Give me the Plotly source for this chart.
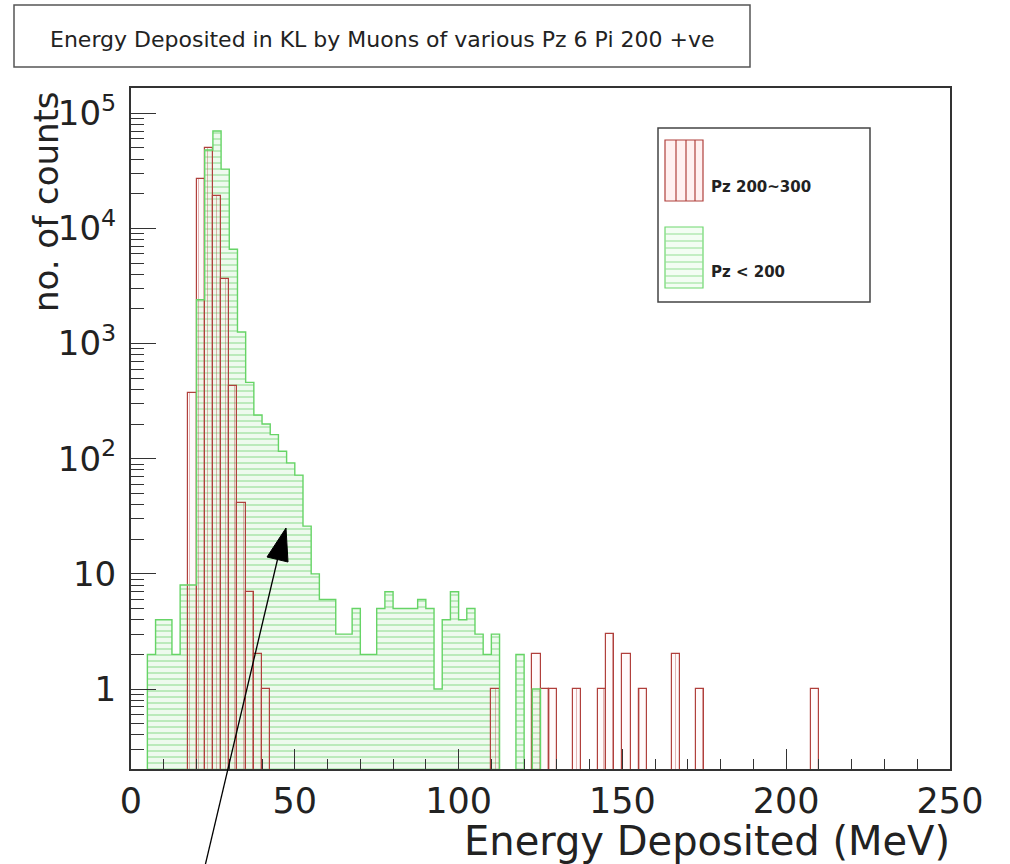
import plotly.graph_objects as go

# ---------------- data (2.5 MeV bins, lower edges) ----------------
BIN_W = 2.5
green_edges = [5, 7.5, 10, 12.5, 15, 17.5, 20, 22.5, 25, 27.5, 30, 32.5, 35, 37.5, 40,
               42.5, 45, 47.5, 50, 52.5, 55, 57.5, 60, 62.5, 65, 67.5, 70, 72.5, 75,
               77.5, 80, 82.5, 85, 87.5, 90, 92.5, 95, 97.5, 100, 102.5, 105, 107.5,
               110, 117.5, 122.5]
green_counts = [2, 4, 4, 2, 8, 8, 2400, 48000, 70000, 32700, 6600, 1260, 460, 240, 200,
                162, 116, 92, 72, 26, 10, 6, 6, 3, 3, 5, 2, 2, 5,
                7, 5, 5, 5, 6, 5, 1, 4, 7, 4, 5, 3, 2,
                3, 2, 1]

red_edges = [17.5, 20, 22.5, 25, 27.5, 30, 32.5, 35, 37.5, 40, 110, 122.5, 125, 127.5,
             135, 142.5, 145, 150, 155, 165, 172.5, 207.5]
red_counts = [370, 27000, 50000, 19000, 3600, 425, 41, 7, 2, 1, 1, 2, 1, 1,
              1, 1, 3, 2, 1, 2, 1, 1]

y_tickvals = [1, 10, 100, 1000, 10000, 100000]
y_ticktext = ["1", "10", "10<sup>2</sup>", "10<sup>3</sup>", "10<sup>4</sup>", "10<sup>5</sup>"]
y_minor = [m * 10 ** k for k in range(-1, 6) for m in range(2, 10)]

title_text = "Energy Deposited in KL by Muons of various Pz 6 Pi 200 +ve"
legend_red = "Pz 200~300"
legend_green = "Pz < 200"

FONT = "DejaVu Sans"
FLOOR = 1e-3  # below the visible range: outline drops to the frame bottom

# ---------------- layout geometry (pixels) ----------------
W, H = 1010, 864
L, R, T, B = 131, 950, 88, 769


def px(x):
    return (x - L) / (R - L)


def py(y):
    return (B - y) / (B - T)


def step_outline(edges, counts, w):
    """Histogram outline (step line) built from bin edges/counts, split at gaps."""
    xs, ys = [], []
    prev_end = None
    for e, c in zip(edges, counts):
        if prev_end is None or abs(e - prev_end) > 1e-9:
            if prev_end is not None:
                xs += [prev_end, None]
                ys += [FLOOR, None]
            xs.append(e)
            ys.append(FLOOR)
        xs += [e, e + w]
        ys += [c, c]
        prev_end = e + w
    xs.append(prev_end)
    ys.append(FLOOR)
    return xs, ys


fig = go.Figure()

# green filled hatched bars (no per-bin outline)
fig.add_trace(go.Bar(
    x=[e + BIN_W / 2 for e in green_edges], y=green_counts, width=BIN_W,
    name=legend_green, showlegend=False,
    marker=dict(color="#eefaee",
                line=dict(width=0),
                pattern=dict(shape="-", fgcolor="#98e098", bgcolor="#eefaee",
                             size=6, solidity=0.2, fillmode="replace")),
))
gx, gy = step_outline(green_edges, green_counts, BIN_W)
fig.add_trace(go.Scatter(x=gx, y=gy, mode="lines", showlegend=False,
                         line=dict(color="#66d466", width=1.4), hoverinfo="skip",
                         connectgaps=False))

# red hatched bars with outlines
fig.add_trace(go.Bar(
    x=[e + BIN_W / 2 for e in red_edges], y=red_counts, width=BIN_W,
    name=legend_red, showlegend=False,
    marker=dict(color="rgba(255,220,220,0.2)",
                line=dict(color="#b0403c", width=1.2),
                pattern=dict(shape="|", fgcolor="rgba(176,64,60,0.4)",
                             bgcolor="rgba(255,225,225,0.18)",
                             size=9, solidity=0.1, fillmode="replace")),
))

shapes = []
annotations = []

# title box
shapes.append(dict(type="rect", xref="paper", yref="paper",
                   x0=px(14), x1=px(750), y0=py(67), y1=py(5),
                   line=dict(color="#555555", width=1.5), fillcolor="white", layer="above"))
annotations.append(dict(xref="paper", yref="paper", x=px(382), y=py(39),
                        text=title_text, showarrow=False, xanchor="center", yanchor="middle",
                        font=dict(family=FONT, size=22, color="#222222")))

# legend box
shapes.append(dict(type="rect", xref="paper", yref="paper",
                   x0=px(658), x1=px(870), y0=py(302), y1=py(128),
                   line=dict(color="#444444", width=1.5), fillcolor="white", layer="above"))
# red swatch
shapes.append(dict(type="rect", xref="paper", yref="paper",
                   x0=px(665), x1=px(703), y0=py(201), y1=py(140),
                   line=dict(color="#b0403c", width=1.2), fillcolor="#fff0f0", layer="above"))
for xv in [676, 686, 695]:
    shapes.append(dict(type="line", xref="paper", yref="paper",
                       x0=px(xv), x1=px(xv), y0=py(201), y1=py(140),
                       line=dict(color="#b0403c", width=1.2), layer="above"))
# green swatch
shapes.append(dict(type="rect", xref="paper", yref="paper",
                   x0=px(665), x1=px(703), y0=py(288), y1=py(227),
                   line=dict(color="#6fd86f", width=1.2), fillcolor="#f3fdf3", layer="above"))
for yv in range(234, 288, 7):
    shapes.append(dict(type="line", xref="paper", yref="paper",
                       x0=px(665), x1=px(703), y0=py(yv), y1=py(yv),
                       line=dict(color="#93df93", width=1.2), layer="above"))
annotations.append(dict(xref="paper", yref="paper", x=px(709), y=py(187),
                        text="<b>" + legend_red + "</b>", showarrow=False,
                        xanchor="left", yanchor="middle",
                        font=dict(family=FONT, size=15, color="#222222")))
annotations.append(dict(xref="paper", yref="paper", x=px(709), y=py(272),
                        text="<b>" + legend_green + "</b>", showarrow=False,
                        xanchor="left", yanchor="middle",
                        font=dict(family=FONT, size=15, color="#222222")))

# axis titles
annotations.append(dict(xref="paper", yref="paper", x=px(46), y=py(202),
                        text="no. of counts", showarrow=False, textangle=-90,
                        xanchor="center", yanchor="middle",
                        font=dict(family=FONT, size=34, color="#222222")))
annotations.append(dict(xref="paper", yref="paper", x=px(952), y=py(841),
                        text="Energy Deposited (MeV)", showarrow=False,
                        xanchor="right", yanchor="middle",
                        font=dict(family=FONT, size=40, color="#222222")))

# pointer arrow (line + filled head)
tail = (205, 866)
tip = (286, 528)
base_l = (267, 557)
base_r = (288, 562)
base_c = ((base_l[0] + base_r[0]) / 2, (base_l[1] + base_r[1]) / 2)
shapes.append(dict(type="line", xref="paper", yref="paper",
                   x0=px(tail[0]), y0=py(tail[1]), x1=px(base_c[0]), y1=py(base_c[1]),
                   line=dict(color="black", width=1.3), layer="above"))
path = "M {} {} L {} {} L {} {} Z".format(px(tip[0]), py(tip[1]),
                                         px(base_l[0]), py(base_l[1]),
                                         px(base_r[0]), py(base_r[1]))
shapes.append(dict(type="path", xref="paper", yref="paper", path=path,
                   fillcolor="black", line=dict(color="black", width=1), layer="above"))

fig.update_layout(
    width=W, height=H,
    margin=dict(l=L, r=W - R, t=T, b=H - B, pad=0),
    paper_bgcolor="white", plot_bgcolor="white",
    barmode="overlay", bargap=0,
    showlegend=False,
    font=dict(family=FONT, color="#222222"),
    shapes=shapes, annotations=annotations,
    xaxis=dict(range=[0, 250], tickmode="linear", tick0=0, dtick=50,
               ticks="inside", ticklen=20, tickwidth=1.3, tickcolor="#333333",
               minor=dict(dtick=10, tick0=0, ticks="inside", ticklen=10,
                          tickwidth=1.2, tickcolor="#333333", showgrid=False),
               showgrid=False, zeroline=False,
               showline=True, linecolor="#333333", linewidth=2, mirror=True,
               tickfont=dict(family=FONT, size=35, color="#222222"),
               ticklabelstandoff=0),
    yaxis=dict(type="log", range=[-0.694, 5.219],
               tickmode="array", tickvals=y_tickvals, ticktext=y_ticktext,
               ticks="inside", ticklen=25, tickwidth=1.3, tickcolor="#333333",
               minor=dict(tickmode="array", tickvals=y_minor, ticks="inside",
                          ticklen=13, tickwidth=1.2, tickcolor="#333333", showgrid=False),
               showgrid=False, zeroline=False,
               showline=True, linecolor="#333333", linewidth=2, mirror=True,
               tickfont=dict(family=FONT, size=34, color="#222222"),
               ticklabelstandoff=6),
)

fig.write_html("out.html")
